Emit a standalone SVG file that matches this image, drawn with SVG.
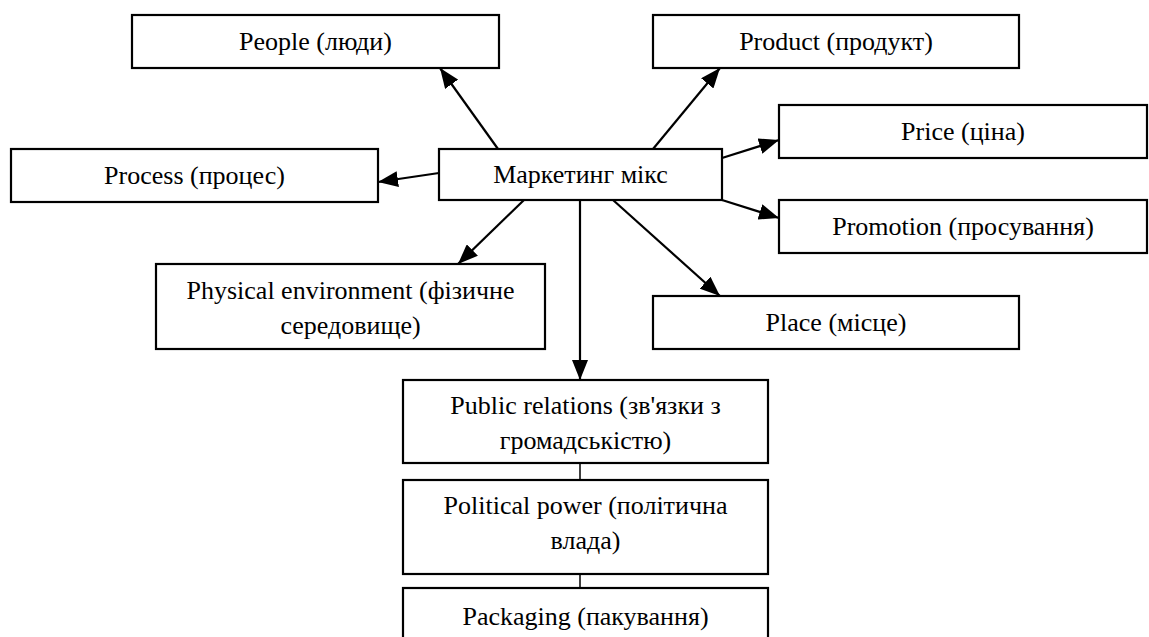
<svg xmlns="http://www.w3.org/2000/svg" width="1149" height="637" viewBox="0 0 1149 637">
<defs>
<marker id="arr" viewBox="0 0 20 16" refX="20" refY="8" markerWidth="20" markerHeight="16" markerUnits="userSpaceOnUse" orient="auto">
<path d="M0,0 L20,8 L0,16 z" fill="#000"/>
</marker>
</defs>
<rect width="1149" height="637" fill="#fff"/>
<g id="connectors" stroke="#000" fill="none" stroke-width="2.2">
<line x1="498" y1="149" x2="440" y2="68" marker-end="url(#arr)"/>
<line x1="653" y1="149" x2="720" y2="68" marker-end="url(#arr)"/>
<line x1="722" y1="158" x2="779" y2="140" marker-end="url(#arr)"/>
<line x1="722" y1="200" x2="779" y2="218" marker-end="url(#arr)"/>
<line x1="439" y1="173" x2="378" y2="182" marker-end="url(#arr)"/>
<line x1="524" y1="200" x2="458" y2="264" marker-end="url(#arr)"/>
<line x1="613" y1="200" x2="720" y2="296" marker-end="url(#arr)"/>
<line x1="580" y1="200" x2="580" y2="380" marker-end="url(#arr)"/>
<line x1="580" y1="463" x2="580" y2="480" stroke-width="1.5"/>
<line x1="580" y1="574" x2="580" y2="588" stroke-width="1.5"/>
</g>
<g id="n-people"><rect x="132" y="15" width="367" height="53" fill="#fff" stroke="#000" stroke-width="2.2"/><text x="315.5" y="50" font-family="Liberation Serif, Times New Roman, serif" style="font-family:'Liberation Serif','Times New Roman',serif" font-size="26" text-anchor="middle">People (люди)</text></g>
<g id="n-product"><rect x="653" y="15" width="366" height="53" fill="#fff" stroke="#000" stroke-width="2.2"/><text x="836" y="50" font-family="Liberation Serif, Times New Roman, serif" style="font-family:'Liberation Serif','Times New Roman',serif" font-size="26" text-anchor="middle">Product (продукт)</text></g>
<g id="n-price"><rect x="779" y="105" width="368" height="53" fill="#fff" stroke="#000" stroke-width="2.2"/><text x="963" y="140" font-family="Liberation Serif, Times New Roman, serif" style="font-family:'Liberation Serif','Times New Roman',serif" font-size="26" text-anchor="middle">Price (ціна)</text></g>
<g id="n-mix"><rect x="439" y="149" width="283" height="51" fill="#fff" stroke="#000" stroke-width="2.2"/><text x="580.5" y="183" font-family="Liberation Serif, Times New Roman, serif" style="font-family:'Liberation Serif','Times New Roman',serif" font-size="26" text-anchor="middle">Маркетинг мікс</text></g>
<g id="n-process"><rect x="11" y="149" width="367" height="53" fill="#fff" stroke="#000" stroke-width="2.2"/><text x="194.5" y="184" font-family="Liberation Serif, Times New Roman, serif" style="font-family:'Liberation Serif','Times New Roman',serif" font-size="26" text-anchor="middle">Process (процес)</text></g>
<g id="n-promotion"><rect x="779" y="200" width="368" height="53" fill="#fff" stroke="#000" stroke-width="2.2"/><text x="963" y="235" font-family="Liberation Serif, Times New Roman, serif" style="font-family:'Liberation Serif','Times New Roman',serif" font-size="26" text-anchor="middle">Promotion (просування)</text></g>
<g id="n-physical"><rect x="156" y="264" width="389" height="85" fill="#fff" stroke="#000" stroke-width="2.2"/><text x="350.5" y="299" font-family="Liberation Serif, Times New Roman, serif" style="font-family:'Liberation Serif','Times New Roman',serif" font-size="26" text-anchor="middle">Physical environment (фізичне</text><text x="350.5" y="334" font-family="Liberation Serif, Times New Roman, serif" style="font-family:'Liberation Serif','Times New Roman',serif" font-size="26" text-anchor="middle">середовище)</text></g>
<g id="n-place"><rect x="653" y="296" width="366" height="53" fill="#fff" stroke="#000" stroke-width="2.2"/><text x="836" y="331" font-family="Liberation Serif, Times New Roman, serif" style="font-family:'Liberation Serif','Times New Roman',serif" font-size="26" text-anchor="middle">Place (місце)</text></g>
<g id="n-pr"><rect x="403" y="380" width="365" height="83" fill="#fff" stroke="#000" stroke-width="2.2"/><text x="585.5" y="414" font-family="Liberation Serif, Times New Roman, serif" style="font-family:'Liberation Serif','Times New Roman',serif" font-size="26" text-anchor="middle">Public relations (зв'язки з</text><text x="585.5" y="449" font-family="Liberation Serif, Times New Roman, serif" style="font-family:'Liberation Serif','Times New Roman',serif" font-size="26" text-anchor="middle">громадськістю)</text></g>
<g id="n-political"><rect x="403" y="480" width="365" height="94" fill="#fff" stroke="#000" stroke-width="2.2"/><text x="585.5" y="514" font-family="Liberation Serif, Times New Roman, serif" style="font-family:'Liberation Serif','Times New Roman',serif" font-size="26" text-anchor="middle">Political power (політична</text><text x="585.5" y="549" font-family="Liberation Serif, Times New Roman, serif" style="font-family:'Liberation Serif','Times New Roman',serif" font-size="26" text-anchor="middle">влада)</text></g>
<g id="n-packaging"><rect x="403" y="588" width="365" height="70" fill="#fff" stroke="#000" stroke-width="2.2"/><text x="585.5" y="625" font-family="Liberation Serif, Times New Roman, serif" style="font-family:'Liberation Serif','Times New Roman',serif" font-size="26" text-anchor="middle">Packaging (пакування)</text></g>
</svg>
